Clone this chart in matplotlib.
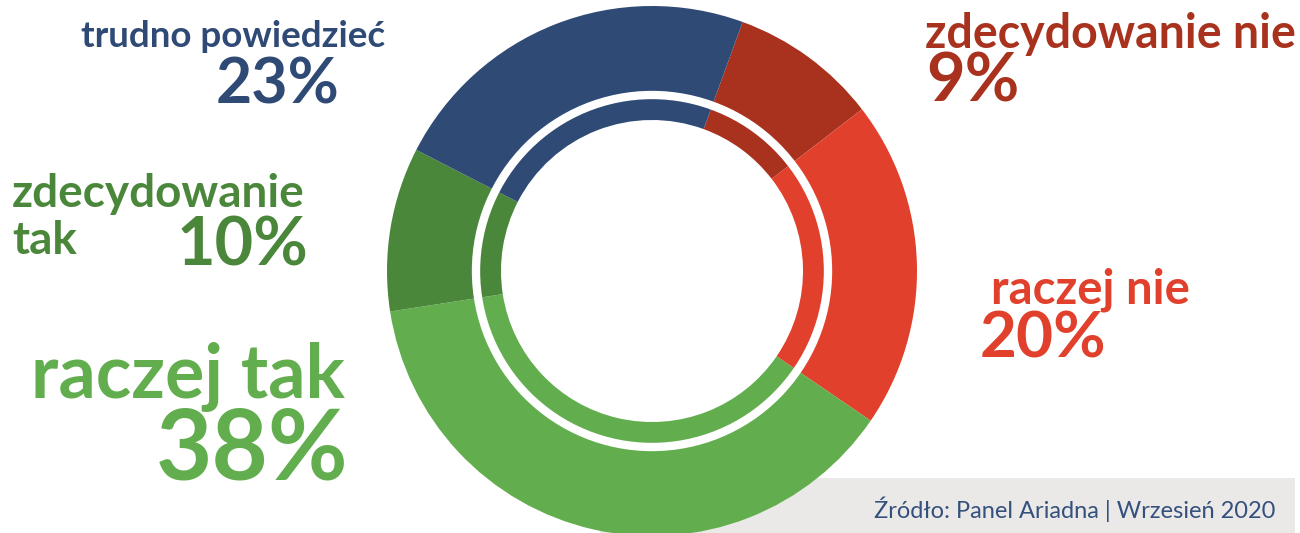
import matplotlib.pyplot as plt
from matplotlib.patches import Circle, Rectangle

# answers to the survey question, in clockwise order starting from "zdecydowanie nie"
labels = ['zdecydowanie nie', 'raczej nie', 'raczej tak', 'zdecydowanie tak', 'trudno powiedzieć']
shares = [9, 20, 38, 10, 23]
colors = ['#a8321e', '#e0402c', '#62ae4f', '#4a873a', '#2e4a75']
source = 'Źródło: Panel Ariadna | Wrzesień 2020'

W, H = 1300, 533
fig = plt.figure(figsize=(13, 5.33), dpi=100)
ax = fig.add_axes([0, 0, 1, 1])

# grey source box, partly hidden behind the donut
ax.add_patch(Rectangle((600, 0), 695, H - 478, facecolor='#ebe9e7', edgecolor='none', zorder=0))

cx, cy, R = 652, H - 271, 265
ax.pie(shares, colors=colors, startangle=70, counterclock=False,
       center=(cx, cy), radius=R, frame=True,
       wedgeprops=dict(width=R - 151, linewidth=0, zorder=2))
# white separator between outer and inner ring
ax.add_patch(Circle((cx, cy), 176, fill=False, edgecolor='white', linewidth=6, zorder=3))
ax.set_xlim(0, W)
ax.set_ylim(0, H)
ax.set_aspect('equal')
ax.axis('off')

bold = dict(family=['Lato', 'DejaVu Sans'], fontweight='bold')


def txt(x, y, s, size, color, ha='left'):
    ax.text(x, H - y, s, fontsize=size, color=color, ha=ha, va='baseline', **bold)


txt(385, 47, 'trudno powiedzieć', 26.5, colors[4], ha='right')
txt(339, 103, '23%', 45, colors[4], ha='right')

txt(925, 48, 'zdecydowanie nie', 33.5, colors[0])
txt(926, 102, '9%', 48, colors[0])

txt(12, 207, 'zdecydowanie', 33, colors[3])
txt(12, 254, 'tak', 33, colors[3])
txt(308, 265, '10%', 48, colors[3], ha='right')

txt(345, 398, 'raczej tak', 53, colors[2], ha='right')
txt(348, 479, '38%', 70, colors[2], ha='right')

txt(1190, 303, 'raczej nie', 34, colors[1], ha='right')
txt(980, 358, '20%', 46, colors[1])

ax.text(1275, H - 518, source, fontsize=17, color='#34507d', ha='right', va='baseline',
        family=['Lato', 'DejaVu Sans'], fontweight='normal')

fig.savefig('out.png', dpi=100)
